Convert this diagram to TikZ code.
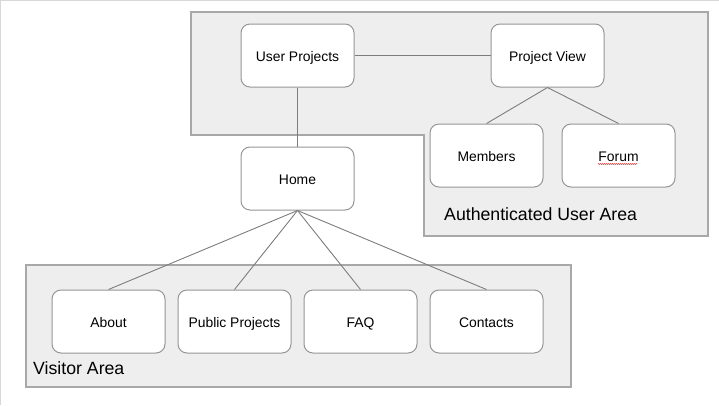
\documentclass[tikz,border=0pt]{standalone}
\usepackage{fontspec}
\setmainfont{Liberation Sans}
\usetikzlibrary{positioning,decorations.pathmorphing}
\definecolor{AreaFill}{RGB}{238,238,238}
\definecolor{AreaLine}{RGB}{168,168,168}
\definecolor{BoxLine}{RGB}{150,150,150}
\definecolor{LinkLine}{RGB}{125,125,125}
\definecolor{FrameLine}{RGB}{215,215,215}
\definecolor{SpellRed}{RGB}{220,60,60}

\begin{document}
\begin{tikzpicture}[x=1pt,y=-1pt,
    area/.style={fill=AreaFill,draw=AreaLine,line width=1.6pt},
    areaname/.style={anchor=west,inner sep=0pt,font=\fontsize{17.7}{20}\selectfont},
    page/.style={draw=BoxLine,fill=white,line width=1pt,rounded corners=9pt,
      minimum width=113pt,minimum height=63pt,inner sep=0pt,
      text height=12pt,text depth=1pt,
      font=\fontsize{13.9}{16}\selectfont},
    link/.style={draw=LinkLine,line width=.9pt}]
  \useasboundingbox (0,0) rectangle (719,405);
  \draw[FrameLine,line width=1pt] (0,405) -- (0,.5) -- (719,.5);

  % areas
  \draw[area] (191,12) -- (708,12) -- (708,236) -- (424,236) -- (424,135)
    -- (191,135) -- cycle;
  \draw[area] (26,265) rectangle (571,387);
  \node[areaname] (authname) at (444,214) {Authenticated User Area};
  \node[areaname] (visitname) at (33,368) {Visitor Area};

  % authenticated pages
  \node[page] (userproj) at (297.5,55.5) {User Projects};
  \node[page] (projview) at (547.5,55.5) {Project View};
  \node[page] (members) at (486.5,155.5) {Members};
  \node[page] (forum) at (618.5,155.5) {Forum};
  \node[page] (home) at (297.5,178.5) {Home};

  % visitor pages
  \foreach \name/\txt [count=\i from 0] in
      {about/About,public/Public Projects,faq/FAQ,contacts/Contacts}{
    \node[page] (\name) at (108.5+126*\i,321.5) {\txt};
  }

  \draw[link] (userproj.east) -- (projview.west);
  \draw[link] (userproj.south) -- (home.north);
  \draw[link] (projview.south) -- (members.north);
  \draw[link] (projview.south) -- (forum.north);
  \foreach \name in {about,public,faq,contacts}{
    \draw[link] (home.south) -- (\name.north);
  }

  \draw[SpellRed,line width=.5pt,decorate,
    decoration={zigzag,amplitude=.6pt,segment length=2pt}]
    (598,164) -- (637,164);
\end{tikzpicture}
\end{document}
